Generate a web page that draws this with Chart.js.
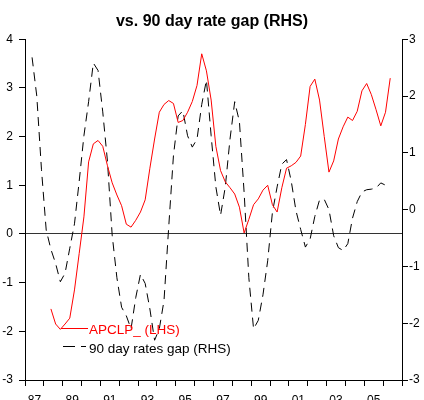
<!DOCTYPE html>
<html>
<head>
<meta charset="utf-8">
<script src="https://cdn.jsdelivr.net/npm/chart.js@4.4.0/dist/chart.umd.min.js"></script>
<style>
  body { margin: 0; background: #fff; }
  #wrap { width: 424px; height: 400px; }
</style>
</head>
<body>
<div id="wrap"><canvas id="gapChart" width="424" height="400"></canvas></div>
<script>
// quarterly series, first value and quarter
var apclpStart = [1988, 2];
var apclp = [
    -1.54, -1.85, -1.96, -1.85, -1.73, -1.15, -0.4, 0.35, 1.48, 1.85,
    1.92, 1.8, 1.4, 1.05, 0.8, 0.58, 0.2, 0.14, 0.28, 0.45,
    0.7, 1.35, 1.95, 2.5, 2.66, 2.74, 2.68, 2.29, 2.33, 2.5,
    2.72, 3.05, 3.7, 3.35, 2.75, 1.8, 1.3, 1.07, 0.95, 0.82,
    0.55, 0.02, 0.3, 0.6, 0.72, 0.9, 1.0, 0.6, 0.45, 0.95,
    1.35, 1.4, 1.47, 1.6, 2.25, 3.03, 3.18, 2.75, 2.0, 1.27,
    1.5, 1.95, 2.2, 2.4, 2.33, 2.52, 2.94, 3.09, 2.86, 2.55,
    2.22, 2.5, 3.2
];

var rateGapStart = [1987, 2];
var rateGap = [
    2.68, 2.0, 0.7, -0.36, -0.7, -0.95, -1.27, -1.12, -0.68, -0.25,
    0.5, 1.3, 1.9, 2.58, 2.45, 1.72, 0.85, -0.45, -1.2, -1.72,
    -1.87, -2.1, -1.55, -1.14, -1.3, -1.75, -2.3, -2.1, -1.6, -0.3,
    0.95, 1.65, 1.74, 1.3, 1.1, 1.24, 1.85, 2.28, 1.3, 0.4,
    -0.1, 0.4, 1.24, 1.9, 1.55, 0.3, -1.2, -2.1, -1.95, -1.5,
    -0.9, -0.05, 0.4, 0.8, 0.88, 0.5, -0.02, -0.35, -0.66, -0.52,
    -0.12, 0.17, 0.18, 0.0, -0.46, -0.67, -0.72, -0.6, -0.15, 0.14,
    0.31, 0.35, 0.36, 0.38, 0.47, 0.43
];

var labelYears = [1987, 1989, 1991, 1993, 1995, 1997, 1999, 2001, 2003, 2005];
var xTickLabels = ['87', '89', '91', '93', '95', '97', '99', '01', '03', '05'];

var FONT = 'Liberation Sans, Arial, Helvetica, sans-serif';

function toPoints(start, values) {
    // mid-quarter position on a year axis
    return values.map(function (v, i) {
        var q = start[1] - 1 + i;
        return { x: start[0] + q / 4 + 0.125, y: v };
    });
}

var insideLegend = {
    id: 'insideLegend',
    afterDatasetsDraw: function (chart) {
        var ctx = chart.ctx;
        var ds = chart.data.datasets;
        ctx.save();
        ctx.font = '13.5px ' + FONT;
        ctx.textBaseline = 'middle';
        ctx.lineWidth = 1;

        ctx.strokeStyle = ds[0].borderColor;
        ctx.beginPath();
        ctx.moveTo(61, 328.5);
        ctx.lineTo(88, 328.5);
        ctx.stroke();
        ctx.fillStyle = ds[0].borderColor;
        ctx.fillText(ds[0].label, 89, 330);

        ctx.strokeStyle = ds[1].borderColor;
        ctx.setLineDash([12, 6]);
        ctx.beginPath();
        ctx.moveTo(63, 346.5);
        ctx.lineTo(86, 346.5);
        ctx.stroke();
        ctx.setLineDash([]);
        ctx.fillStyle = '#000';
        ctx.fillText(ds[1].label, 89, 349);
        ctx.restore();
    }
};

var ctxGap = document.getElementById('gapChart').getContext('2d');
var gapChart = new Chart(ctxGap, {
    type: 'line',
    data: {
        datasets: [
            {
                label: 'APCLP_ (LHS)',
                data: toPoints(apclpStart, apclp),
                yAxisID: 'y',
                borderColor: '#ff0000',
                borderWidth: 1,
                pointRadius: 0,
                tension: 0,
                fill: false
            },
            {
                label: '90 day rates gap (RHS)',
                data: toPoints(rateGapStart, rateGap),
                yAxisID: 'y2',
                borderColor: '#000000',
                borderWidth: 1,
                borderDash: [9, 6],
                pointRadius: 0,
                tension: 0,
                fill: false
            }
        ]
    },
    options: {
        responsive: false,
        animation: false,
        layout: { padding: 0 },
        plugins: {
            legend: { display: false },
            tooltip: { enabled: false },
            title: {
                display: true,
                text: 'vs. 90 day rate gap (RHS)',
                color: '#000',
                font: { family: FONT, size: 16, weight: 'bold' },
                padding: { top: 12, bottom: 8 }
            }
        },
        scales: {
            x: {
                type: 'linear',
                min: 1987,
                max: 2007,
                afterBuildTicks: function (scale) {
                    var t = [];
                    for (var v = 1987; v <= 2007; v += 0.5) t.push({ value: v });
                    scale.ticks = t;
                },
                afterFit: function (scale) { scale.height = 20; },
                border: { display: true, color: '#000', width: 1 },
                grid: {
                    drawOnChartArea: false,
                    drawTicks: true,
                    tickLength: 6,
                    tickColor: function (c) {
                        return c.tick && c.tick.value % 1 === 0 ? '#000' : 'rgba(0,0,0,0)';
                    }
                },
                ticks: {
                    autoSkip: false,
                    maxRotation: 0,
                    padding: 7,
                    color: '#000',
                    font: { family: FONT, size: 12 },
                    callback: function (v) {
                        var idx = labelYears.indexOf(v - 0.5);
                        return idx >= 0 ? xTickLabels[idx] : '';
                    }
                }
            },
            y: {
                position: 'left',
                min: -3,
                max: 4,
                afterFit: function (scale) { scale.width = 25; },
                border: { display: true, color: '#000', width: 1 },
                grid: {
                    drawOnChartArea: true,
                    tickLength: 6,
                    tickColor: '#000',
                    color: function (c) {
                        return c.tick && c.tick.value === 0 ? '#333' : 'rgba(0,0,0,0)';
                    }
                },
                ticks: {
                    stepSize: 1,
                    padding: 6,
                    color: '#000',
                    font: { family: FONT, size: 12 }
                }
            },
            y2: {
                position: 'right',
                min: -3,
                max: 3,
                afterFit: function (scale) { scale.width = 22; },
                border: { display: true, color: '#000', width: 1 },
                grid: {
                    drawOnChartArea: false,
                    tickLength: 6,
                    tickColor: '#000'
                },
                ticks: {
                    stepSize: 1,
                    padding: 1,
                    color: '#000',
                    font: { family: FONT, size: 12 }
                }
            }
        }
    },
    plugins: [insideLegend]
});
</script>
</body>
</html>
